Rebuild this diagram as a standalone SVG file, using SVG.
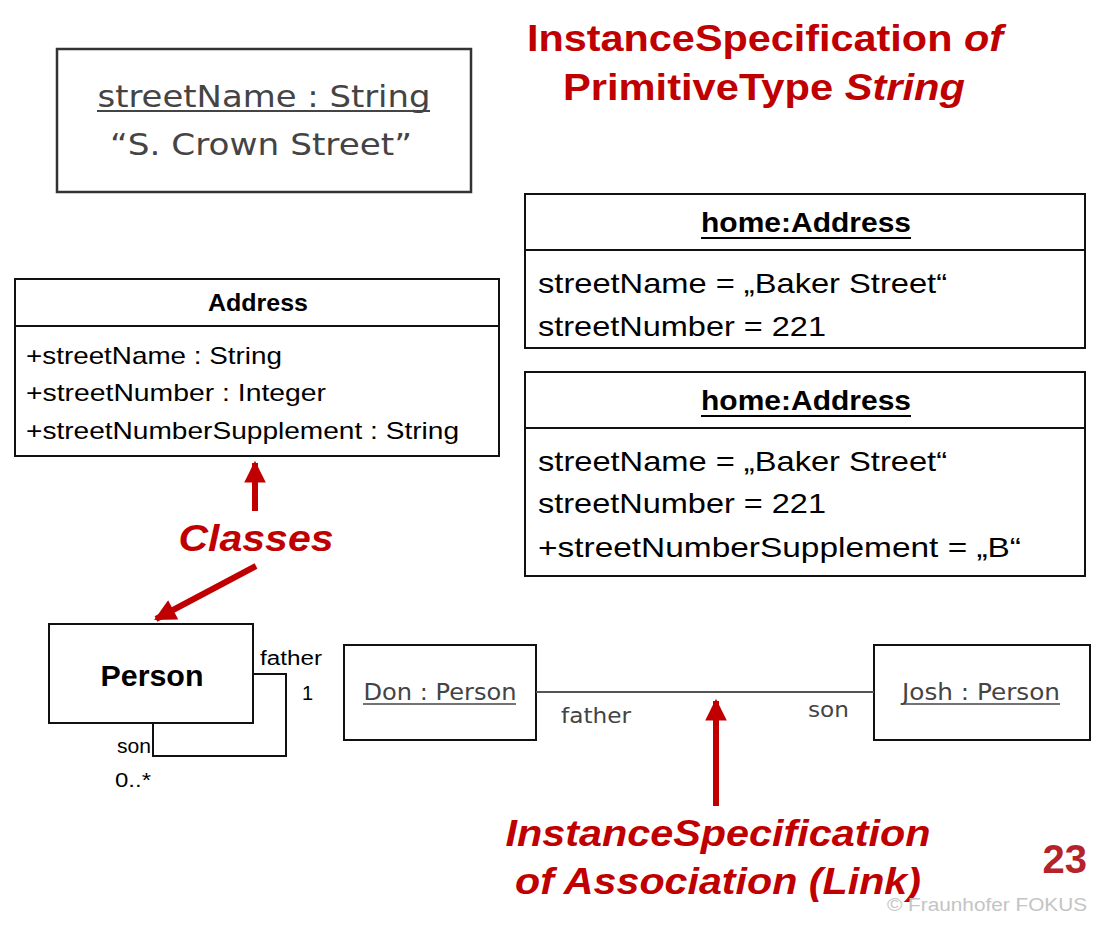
<svg xmlns="http://www.w3.org/2000/svg" width="1120" height="929" viewBox="0 0 1120 929">
<defs>
<style>
.box{fill:#fff;stroke:#111;stroke-width:2}
.gbox{fill:#fff;stroke:#333;stroke-width:2.5}
.cal{font-family:"Liberation Sans","Open Sans",sans-serif;fill:#000}
.tah{font-family:"DejaVu Sans","Liberation Sans",sans-serif;fill:#444}
.red{font-family:"Liberation Sans",Arial,sans-serif;font-weight:bold;fill:#c00000}
.redline{stroke:#c00000;stroke-width:6;fill:none}
.conn{stroke:#111;stroke-width:2;fill:none}
.link{stroke:#555;stroke-width:1.8;fill:none}
</style>
<marker id="ah" viewBox="0 0 10 10" refX="9" refY="5" markerWidth="3.8" markerHeight="3.6" orient="auto" markerUnits="strokeWidth">
<path d="M0,0 L10,5 L0,10 z" fill="#c00000"/>
</marker>
</defs>
<rect width="1120" height="929" fill="#fff"/>

<g id="primitive-instance">
<rect class="gbox" x="57" y="49" width="414" height="143"/>
<text class="tah" x="264" y="107" font-size="31" text-anchor="middle" textLength="333" lengthAdjust="spacingAndGlyphs">streetName : String</text>
<line x1="97" y1="111" x2="430" y2="111" stroke="#444" stroke-width="2"/>
<text class="tah" x="261" y="155" font-size="31" text-anchor="middle" textLength="302" lengthAdjust="spacingAndGlyphs">“S. Crown Street”</text>
</g>

<g id="title">
<text class="red" x="765" y="51" font-size="37" text-anchor="middle" textLength="476" lengthAdjust="spacingAndGlyphs">InstanceSpecification <tspan font-style="italic">of</tspan></text>
<text class="red" x="764" y="100" font-size="37" text-anchor="middle" textLength="402" lengthAdjust="spacingAndGlyphs">PrimitiveType <tspan font-style="italic">String</tspan></text>
</g>

<g id="home-address-1">
<rect class="box" x="525" y="194" width="560" height="154"/>
<line class="conn" x1="525" y1="250" x2="1085" y2="250"/>
<text class="cal" x="806" y="232" font-size="27" font-weight="bold" text-anchor="middle" textLength="210" lengthAdjust="spacingAndGlyphs">home:Address</text>
<line x1="701" y1="238" x2="911" y2="238" stroke="#000" stroke-width="2"/>
<text class="cal" x="538" y="293" font-size="28" textLength="409" lengthAdjust="spacingAndGlyphs">streetName = „Baker Street“</text>
<text class="cal" x="538" y="336" font-size="28" textLength="288" lengthAdjust="spacingAndGlyphs">streetNumber = 221</text>
</g>

<g id="home-address-2">
<rect class="box" x="525" y="372" width="560" height="204"/>
<line class="conn" x1="525" y1="428" x2="1085" y2="428"/>
<text class="cal" x="806" y="410" font-size="27" font-weight="bold" text-anchor="middle" textLength="210" lengthAdjust="spacingAndGlyphs">home:Address</text>
<line x1="701" y1="416" x2="911" y2="416" stroke="#000" stroke-width="2"/>
<text class="cal" x="538" y="471" font-size="28" textLength="409" lengthAdjust="spacingAndGlyphs">streetName = „Baker Street“</text>
<text class="cal" x="538" y="513" font-size="28" textLength="288" lengthAdjust="spacingAndGlyphs">streetNumber = 221</text>
<text class="cal" x="538" y="557" font-size="28" textLength="483" lengthAdjust="spacingAndGlyphs">+streetNumberSupplement  = „B“</text>
</g>

<g id="address-class">
<rect class="box" x="15" y="279" width="484" height="177"/>
<line class="conn" x1="15" y1="326" x2="499" y2="326"/>
<text class="cal" x="258" y="311" font-size="24" font-weight="bold" text-anchor="middle" textLength="100" lengthAdjust="spacingAndGlyphs">Address</text>
<text class="cal" x="26" y="364" font-size="24" textLength="256" lengthAdjust="spacingAndGlyphs">+streetName : String</text>
<text class="cal" x="26" y="401" font-size="24" textLength="300" lengthAdjust="spacingAndGlyphs">+streetNumber : Integer</text>
<text class="cal" x="26" y="439" font-size="24" textLength="433" lengthAdjust="spacingAndGlyphs">+streetNumberSupplement : String</text>
</g>

<g id="classes-label">
<text class="red" x="256" y="551" font-size="37" font-style="italic" text-anchor="middle" textLength="155" lengthAdjust="spacingAndGlyphs">Classes</text>
</g>

<g id="person">
<rect class="box" x="49" y="624" width="204" height="99"/>
<text class="cal" x="152" y="686" font-size="29" font-weight="bold" text-anchor="middle" textLength="103" lengthAdjust="spacingAndGlyphs">Person</text>
</g>

<g id="don">
<rect class="box" x="344" y="645" width="192" height="95"/>
<text class="tah" x="440" y="700" font-size="23" text-anchor="middle" textLength="153" lengthAdjust="spacingAndGlyphs">Don : Person</text>
<line x1="363" y1="704" x2="516" y2="704" stroke="#444" stroke-width="1.5"/>
</g>

<g id="josh">
<rect class="box" x="874" y="645" width="216" height="95"/>
<text class="tah" x="981" y="700" font-size="23" text-anchor="middle" textLength="158" lengthAdjust="spacingAndGlyphs">Josh : Person</text>
<line x1="902" y1="704" x2="1060" y2="704" stroke="#444" stroke-width="1.5"/>
</g>

<g id="link-label">
<text class="red" x="718" y="846" font-size="37" font-style="italic" text-anchor="middle" textLength="425" lengthAdjust="spacingAndGlyphs">InstanceSpecification</text>
<text class="red" x="718" y="894" font-size="37" font-style="italic" text-anchor="middle" textLength="406" lengthAdjust="spacingAndGlyphs">of Association (Link)</text>
</g>

<g id="connectors">
<path class="conn" d="M253,674 H286 V756 H153 V723"/>
<text class="cal" x="260" y="665" font-size="20" textLength="62" lengthAdjust="spacingAndGlyphs">father</text>
<text class="cal" x="302" y="700" font-size="20">1</text>
<text class="cal" x="117" y="753" font-size="20" textLength="34" lengthAdjust="spacingAndGlyphs">son</text>
<text class="cal" x="115" y="787" font-size="20" textLength="36" lengthAdjust="spacingAndGlyphs">0..*</text>

<line class="link" x1="536" y1="692" x2="874" y2="692"/>
<text class="tah" x="561" y="723" font-size="21" textLength="70" lengthAdjust="spacingAndGlyphs">father</text>
<text class="tah" x="808" y="717" font-size="21" textLength="41" lengthAdjust="spacingAndGlyphs">son</text>

<line class="redline" x1="255" y1="511" x2="255" y2="463" marker-end="url(#ah)"/>
<line class="redline" x1="256" y1="566" x2="156" y2="619" marker-end="url(#ah)"/>
<line class="redline" x1="716" y1="806" x2="716" y2="701" marker-end="url(#ah)"/>
</g>

<g id="footer">
<text x="1087" y="873" font-family="Liberation Sans,Arial,sans-serif" font-weight="bold" font-size="40" fill="#b5232a" text-anchor="end">23</text>
<text x="1087" y="911" font-family="Liberation Sans,Arial,sans-serif" font-size="18" fill="#c4c4c4" text-anchor="end" textLength="200" lengthAdjust="spacingAndGlyphs">© Fraunhofer FOKUS</text>
</g>
</svg>
